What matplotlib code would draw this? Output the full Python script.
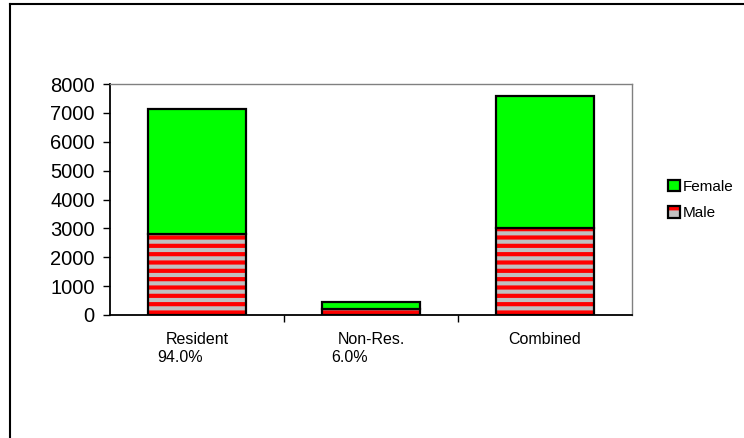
import matplotlib
matplotlib.use('Agg')
import matplotlib.pyplot as plt
from matplotlib.patches import Patch
from matplotlib.lines import Line2D
from matplotlib.legend_handler import HandlerTuple

categories = ['Resident', 'Non-Res.', 'Combined']
shares = ['94.0%', '6.0%', '']
male = [2820, 200, 3020]
female = [4310, 260, 4570]
yticks = [0, 1000, 2000, 3000, 4000, 5000, 6000, 7000, 8000]

plt.rcParams['font.family'] = ['Liberation Sans', 'DejaVu Sans']
plt.rcParams['hatch.linewidth'] = 3.0

fig = plt.figure(figsize=(7.44, 4.38), dpi=100)
ax = fig.add_axes([110 / 744, 1 - 315 / 438, 522 / 744, 231 / 438])

x = list(range(len(categories)))
width = 0.56

# male: silver with red horizontal stripes, outline drawn separately
ax.bar(x, male, width, color='#C0C0C0', edgecolor='red', linewidth=0, hatch='--')
ax.bar(x, male, width, color='none', edgecolor='black', linewidth=1.6)
ax.bar(x, female, width, bottom=male, color='#00FF00', edgecolor='black', linewidth=1.6)

ax.set_xlim(-0.5, 2.5)
ax.set_ylim(0, 8000)
ax.set_yticks(yticks)
ax.set_yticklabels([str(t) for t in yticks], fontsize=14.5)
ax.tick_params(axis='y', direction='out', length=5, width=1, pad=6)

ax.set_xticks(x)
ax.set_xticklabels(categories, fontsize=11.5)
ax.set_xticks([0.5, 1.5], minor=True)
ax.tick_params(axis='x', which='major', length=0, pad=12)
ax.tick_params(axis='x', which='minor', direction='out', length=5, width=1)

for i, s in enumerate(shares):
    ax.text(i - 0.23, -0.15, s, transform=ax.get_xaxis_transform(),
            ha='left', va='top', fontsize=11.5)

for side in ['top', 'right']:
    ax.spines[side].set_color('#808080')
    ax.spines[side].set_linewidth(1)
for side in ['left', 'bottom']:
    ax.spines[side].set_color('black')
    ax.spines[side].set_linewidth(1.3)

h_female = Patch(facecolor='#00FF00', edgecolor='black', linewidth=1.6)
h_male = (Patch(facecolor='#C0C0C0', edgecolor='red', linewidth=0, hatch='-'),
          Patch(facecolor='none', edgecolor='black', linewidth=1.6))
fig.legend([h_female, h_male], ['Female', 'Male'], loc='center left',
           bbox_to_anchor=(654 / 744, 1 - 200 / 438), frameon=False, fontsize=11,
           handlelength=0.8, handleheight=0.8, handletextpad=0.2, labelspacing=0.8,
           handler_map={tuple: HandlerTuple(ndivide=1)})

# outer frame of the chart area
fig.add_artist(Line2D([9.5 / 744, 1], [1 - 4 / 438, 1 - 4 / 438], color='black', linewidth=1.5))
fig.add_artist(Line2D([9.5 / 744, 9.5 / 744], [0, 1 - 4 / 438], color='black', linewidth=1.5))

fig.savefig('out.png', dpi=100)
